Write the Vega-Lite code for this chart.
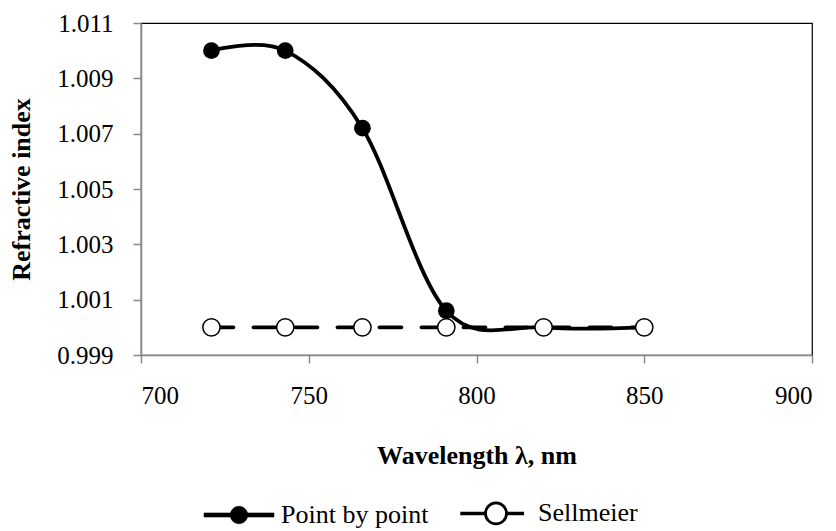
{
  "$schema": "https://vega.github.io/schema/vega-lite/v6.json",
  "width": 671,
  "height": 332,
  "autosize": "none",
  "padding": {"left": 141, "top": 23, "right": 24, "bottom": 176},
  "background": "white",
  "config": {
    "font": "Liberation Serif",
    "view": {"stroke": "black", "strokeWidth": 1.2},
    "legend": {"labelFont": "Liberation Serif"},
    "axis": {
      "grid": false,
      "domainColor": "#898989",
      "domainWidth": 1.5,
      "tickColor": "#898989",
      "tickWidth": 1.5,
      "tickSize": 8,
      "labelColor": "black",
      "labelFontSize": 25,
      "labelFont": "Liberation Serif",
      "titleFont": "Liberation Serif",
      "titleFontSize": 26,
      "titleFontWeight": "bold",
      "titleColor": "black",
      "labelPadding": 20
    }
  },
  "data": {
    "values": [
      {"series": "Point by point", "wavelength": 721, "n": 1.0100},
      {"series": "Point by point", "wavelength": 743, "n": 1.0100},
      {"series": "Point by point", "wavelength": 766, "n": 1.0072},
      {"series": "Point by point", "wavelength": 791, "n": 1.0006},
      {"series": "Point by point", "wavelength": 820, "n": 1.0000},
      {"series": "Point by point", "wavelength": 850, "n": 1.0000},
      {"series": "Sellmeier", "wavelength": 721, "n": 1.0000},
      {"series": "Sellmeier", "wavelength": 743, "n": 1.0000},
      {"series": "Sellmeier", "wavelength": 766, "n": 1.0000},
      {"series": "Sellmeier", "wavelength": 791, "n": 1.0000},
      {"series": "Sellmeier", "wavelength": 820, "n": 1.0000},
      {"series": "Sellmeier", "wavelength": 850, "n": 1.0000}
    ]
  },
  "encoding": {
    "x": {
      "field": "wavelength",
      "type": "quantitative",
      "scale": {"domain": [700, 900], "nice": false, "zero": false},
      "axis": {"values": [700, 750, 800, 850, 900], "title": "Wavelength λ, nm", "titlePadding": 34}
    },
    "y": {
      "field": "n",
      "type": "quantitative",
      "scale": {"domain": [0.999, 1.011], "nice": false, "zero": false},
      "axis": {"values": [0.999, 1.001, 1.003, 1.005, 1.007, 1.009, 1.011], "format": ".3f", "title": "Refractive index", "titlePadding": 22}
    }
  },
  "layer": [
    {
      "transform": [{"filter": "datum.series === 'Point by point'"}],
      "mark": {"type": "line", "interpolate": "cardinal", "strokeWidth": 3.8, "strokeCap": "round"},
      "encoding": {
        "color": {
          "field": "series",
          "type": "nominal",
          "scale": {"domain": ["Point by point", "Sellmeier"], "range": ["black", "black"]},
          "legend": {
            "title": null,
            "orient": "none",
            "direction": "horizontal",
            "legendX": 85,
            "legendY": 477,
            "labelFont": "Liberation Serif",
            "labelFontSize": 26,
            "labelColor": "black",
            "symbolSize": 4900,
            "labelOffset": 29,
            "columnPadding": 27,
            "encode": {
              "symbols": {
                "update": {
                  "shape": {"signal": "datum.value === 'Sellmeier' ? 'M-0.98,-0.01H-0.32V0.01H-0.98Z M0.32,-0.01H0.76V0.01H0.32Z M0.3,0A0.3,0.3,0,1,1,-0.3,0A0.3,0.3,0,1,1,0.3,0Z' : 'M-1,-0.06H1V0.06H-1Z M0.25,0A0.25,0.25,0,1,1,-0.25,0A0.25,0.25,0,1,1,0.25,0Z'"},
                  "fill": {"signal": "datum.value === 'Sellmeier' ? 'white' : 'black'"},
                  "stroke": {"value": "black"},
                  "strokeWidth": {"signal": "datum.value === 'Sellmeier' ? 2.8 : 0.5"},
                  "strokeDash": {"value": []},
                  "opacity": {"value": 1}
                }
              }
            }
          }
        }
      }
    },
    {
      "transform": [{"filter": "datum.series === 'Point by point'"}],
      "mark": {"type": "point", "shape": "circle", "filled": true, "fill": "black", "size": 280, "opacity": 1}
    },
    {
      "transform": [{"filter": "datum.series === 'Sellmeier'"}],
      "mark": {"type": "line", "strokeWidth": 3.8, "strokeDash": [22, 20], "strokeCap": "round"},
      "encoding": {
        "color": {"field": "series", "type": "nominal"}
      }
    },
    {
      "transform": [{"filter": "datum.series === 'Sellmeier'"}],
      "mark": {"type": "point", "shape": "circle", "filled": true, "fill": "white", "stroke": "black", "strokeWidth": 1.5, "size": 300, "opacity": 1}
    }
  ]
}
